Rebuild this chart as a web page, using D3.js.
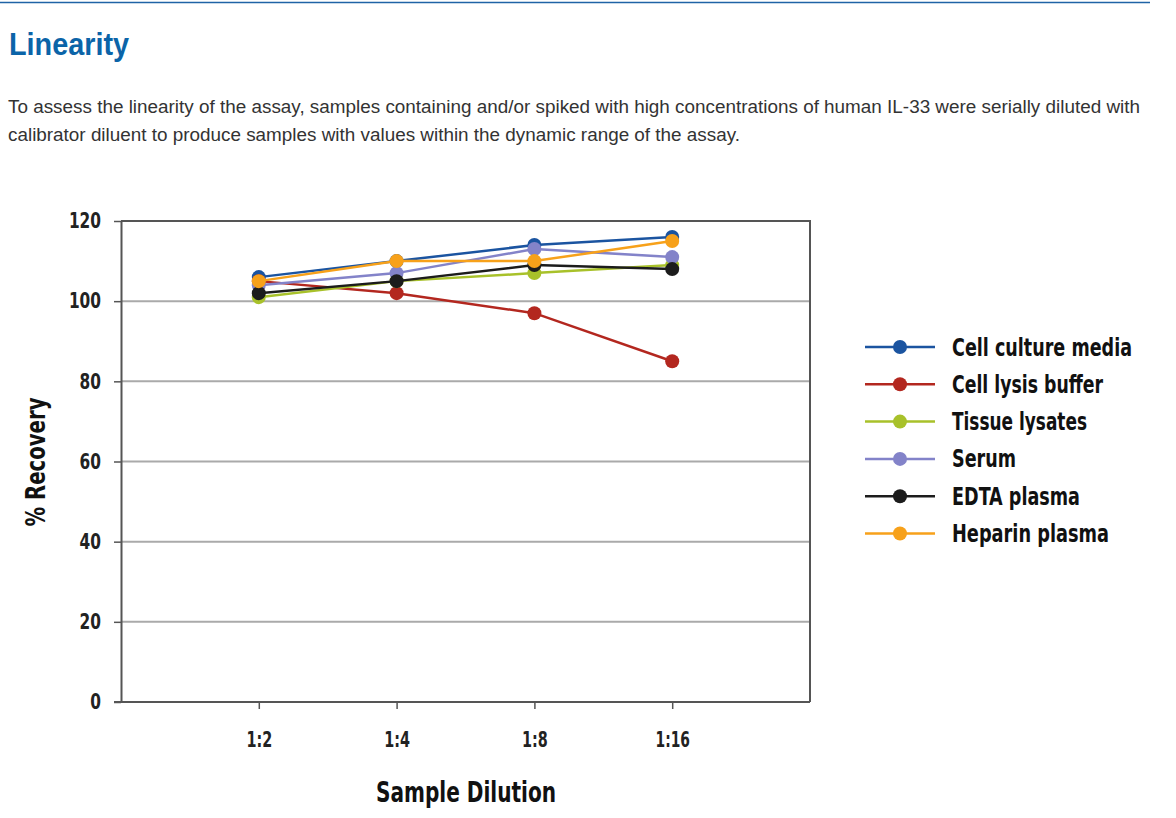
<!DOCTYPE html>
<html><head><meta charset="utf-8">
<script src="https://cdn.jsdelivr.net/npm/d3@7"></script>
<style>
body{margin:0;background:#fff;font-family:Arial,"Liberation Sans",sans-serif;}
.cond{font-family:"DejaVu Sans Condensed","DejaVu Sans",sans-serif;font-stretch:condensed;font-weight:bold;}
</style></head>
<body>
<svg id="c" width="1176" height="818"></svg>
<script>
const categories = ["1:2","1:4","1:8","1:16"];
const seriesNames = ["Cell culture media","Cell lysis buffer","Tissue lysates","Serum","EDTA plasma","Heparin plasma"];
const seriesColors = ["#1b54a0","#b3271f","#a8c12a","#8383c9","#1c1c1c","#f7a11a"];
const cellCulture = [106,110,114,116];
const cellLysis = [105,102,97,85];
const tissue = [101,105,107,109];
const serum = [104,107,113,111];
const edta = [102,105,109,108];
const heparin = [105,110,110,115];
const yTicks = [0,20,40,60,80,100,120];
const seriesValues = [cellCulture,cellLysis,tissue,serum,edta,heparin];

const svg = d3.select("#c");

// header
svg.append("line").attr("x1",0).attr("x2",1150).attr("y1",2.5).attr("y2",2.5).attr("stroke","#1f63a6").attr("stroke-width",1.5);
svg.append("text").attr("x",9).attr("y",55).attr("font-size",31).attr("font-weight","bold").attr("fill","#0b64a8")
  .attr("textLength",120).attr("lengthAdjust","spacingAndGlyphs").text("Linearity");
const para = ["To assess the linearity of the assay, samples containing and/or spiked with high concentrations of human IL-33 were serially diluted with",
"calibrator diluent to produce samples with values within the dynamic range of the assay."];
const paraW = [1132, 732];
para.forEach((t,i)=>svg.append("text").attr("x",8).attr("y",113+i*28).attr("font-size",18.9).attr("fill","#333")
  .attr("textLength",paraW[i]).attr("lengthAdjust","spacingAndGlyphs").text(t));

const L=121,R=810,T=221,B=702;
const x = d3.scaleLinear().domain([0,5]).range([L,R]);
const y = d3.scaleLinear().domain([0,120]).range([B,T]);

// grid
svg.append("g").selectAll("line").data(yTicks.filter(d=>d>0)).join("line")
  .attr("x1",L).attr("x2",R).attr("y1",d=>y(d)).attr("y2",d=>y(d))
  .attr("stroke",d=>d===120?"#555":"#aaa").attr("stroke-width",2);
// right border
svg.append("line").attr("x1",R).attr("x2",R).attr("y1",T-1).attr("y2",B).attr("stroke","#555").attr("stroke-width",2);

// y axis
const ya = svg.append("g").attr("transform",`translate(${L},0)`)
  .call(d3.axisLeft(y).tickValues(yTicks).tickSize(7).tickSizeOuter(0).tickPadding(13));
ya.select(".domain").attr("stroke","#555").attr("stroke-width",2);
ya.selectAll(".tick line").attr("stroke","#555").attr("stroke-width",1.5);
ya.selectAll("text").attr("class","cond").attr("font-size",21).attr("fill","#222")
  .attr("textLength",d=>String(d).length*10.7).attr("lengthAdjust","spacingAndGlyphs");

// x axis
const xa = svg.append("g").attr("transform",`translate(0,${B})`)
  .call(d3.axisBottom(x).tickValues([1,2,3,4]).tickFormat(d=>categories[d-1]).tickSize(7).tickSizeOuter(0).tickPadding(23));
xa.select(".domain").attr("stroke","#555").attr("stroke-width",2).attr("d",`M${L-7},0H${R}`);
xa.selectAll(".tick line").attr("stroke","#555").attr("stroke-width",1.5);
xa.selectAll("text").attr("class","cond").attr("font-size",21).attr("fill","#222")
  .attr("textLength",d=>categories[d-1].length*8.6).attr("lengthAdjust","spacingAndGlyphs");

// axis titles
svg.append("text").attr("class","cond").attr("transform",`translate(45,462) rotate(-90)`).attr("text-anchor","middle")
  .attr("font-size",26).attr("fill","#111").attr("textLength",129).attr("lengthAdjust","spacingAndGlyphs").text("% Recovery");
svg.append("text").attr("class","cond").attr("x",466).attr("y",802).attr("text-anchor","middle")
  .attr("font-size",29).attr("fill","#111").attr("textLength",180).attr("lengthAdjust","spacingAndGlyphs").text("Sample Dilution");

// series
const line = d3.line().x((d,i)=>x(i+1)).y(d=>y(d));
seriesValues.forEach((vals,si)=>{
  const g = svg.append("g");
  g.append("path").attr("d",line(vals)).attr("fill","none").attr("stroke",seriesColors[si]).attr("stroke-width",2.5);
  g.selectAll("circle").data(vals).join("circle").attr("cx",(d,i)=>x(i+1)).attr("cy",d=>y(d)).attr("r",7).attr("fill",seriesColors[si]);
});

// legend
const legW = [180,151,135,64,128,157];
const lg = svg.append("g").attr("transform","translate(865,347)");
seriesNames.forEach((n,i)=>{
  const g = lg.append("g").attr("transform",`translate(0,${i*37.3})`);
  g.append("line").attr("x1",0).attr("x2",70).attr("stroke",seriesColors[i]).attr("stroke-width",2.5);
  g.append("circle").attr("cx",35).attr("r",7).attr("fill",seriesColors[i]);
  g.append("text").attr("class","cond").attr("x",87).attr("y",8.5).attr("font-size",24).attr("fill","#111")
    .attr("textLength",legW[i]).attr("lengthAdjust","spacingAndGlyphs").text(n);
});
</script>
</body></html>
